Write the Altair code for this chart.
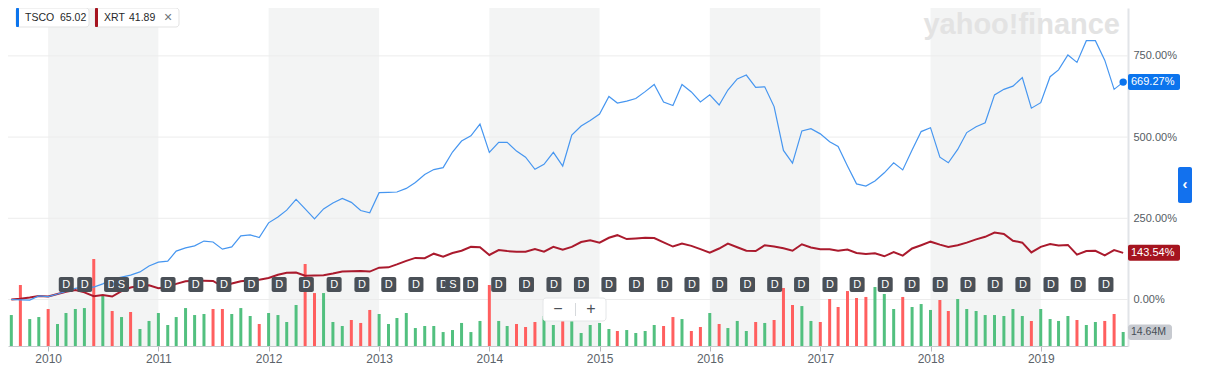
import altair as alt
import pandas as pd

# ---------------- data ----------------
months = pd.date_range("2009-09-01", periods=122, freq="MS").strftime("%Y-%m-%dT00:00:00").tolist()

tsco_pct = [0, -1, -2, 11, 9, 17, 25, 34, 38, 38, 48, 63, 69, 75, 85, 103,
            115, 118, 149, 159, 165, 180, 177, 155, 162, 196, 199, 191,
            236, 254, 275, 308, 279, 248, 279, 297, 311, 299, 274, 267,
            329, 330, 331, 342, 360, 385, 400, 406, 454, 488, 504, 540,
            453, 484, 484, 457, 438, 401, 416, 453, 411, 506, 534, 551,
            571, 625, 605, 611, 619, 640, 662, 608, 597, 662, 639, 608,
            630, 599, 645, 679, 691, 653, 655, 594, 459, 420, 519, 526,
            510, 486, 471, 411, 356, 349, 365, 390, 421, 399, 460, 517,
            529, 438, 421, 462, 514, 532, 544, 630, 647, 657, 683, 589,
            606, 686, 707, 753, 730, 797, 797, 737, 647, 669.27]

xrt_pct = [0, 2, 6, 11, 9, 17, 24, 29, 22, 10, 14, 9, 26, 37, 42, 44,
           35, 38, 48, 56, 58, 58, 57, 40, 49, 56, 59, 61,
           66, 76, 82, 83, 73, 74, 75, 80, 86, 87, 88, 86,
           98, 99, 108, 119, 128, 127, 141, 132, 143, 150, 162, 161,
           137, 152, 149, 147, 147, 155, 147, 162, 153, 162, 177, 182,
           175, 190, 198, 186, 188, 190, 189, 176, 163, 172, 165, 155,
           144, 157, 172, 161, 150, 149, 167, 163, 158, 150, 170, 160,
           155, 155, 150, 154, 143, 140, 142, 133, 146, 135, 157, 167,
           178, 169, 162, 167, 175, 185, 193, 206, 202, 181, 175, 145,
           162, 171, 166, 168, 138, 149, 150, 136, 152, 143.54]

volume_m = [32.4, 63.8, 28.2, 30.3, 38.7, 23.0, 34.5, 38.7, 39.7, 91.0, 52.3,
            36.6, 30.3, 35.6, 17.8, 26.2, 34.5, 22.0, 30.3, 39.7, 32.4, 33.5,
            38.7, 38.7, 33.5, 39.7, 31.4, 23.0, 34.5, 32.4, 25.1, 42.9, 85.8,
            55.4, 55.4, 25.1, 20.9, 27.2, 24.1, 37.7, 33.5, 23.0, 29.3,
            34.5, 18.8, 20.9, 20.9, 14.6, 16.7, 24.1, 14.6, 26.2, 63.8, 26.2,
            20.9, 23.0, 19.9, 25.1, 31.4, 22.0, 29.3, 29.3, 13.6, 22.0, 24.1,
            17.8, 15.7, 16.7, 13.6, 15.7, 22.0, 20.9, 30.3, 28.2, 15.7, 19.9,
            34.5, 23.0, 18.8, 26.2, 15.7, 25.1, 24.1, 27.2, 60.7, 42.9,
            41.8, 26.2, 25.1, 49.2, 40.8, 57.5, 50.2, 51.3, 61.7, 54.4, 38.7,
            51.3, 40.8, 43.9, 37.7, 48.1, 36.6, 49.2, 38.7, 36.6, 32.4, 32.4,
            31.4, 38.7, 31.4, 26.2, 38.7, 28.2, 26.2, 31.4, 27.2, 22.0, 25.1,
            26.2, 33.5, 14.64]

# g = up (green), r = down (red), one letter per monthly bar
volume_dir = list("grggr" "ggggr" "grgrg" "ggggg" "ggrrg" "ggrgg" "ggrrg" "ggrrr" "ggg"
                  "ggggg" "ggggr" "ggrrr" "ggrgg" "gggrg" "gggrr" "grrgr" "gggrg" "rrr"
                  "ggrrr" "rrrgg" "grggg" "rrggg" "ggggg" "rgggg" "rggrr" "g")

shaded_years = [2010, 2012, 2014, 2016, 2018]
year_ticks = list(range(2010, 2020))
grid_values = [0, 250, 500, 750]

event_dates = ["2010-03-02", "2010-05-02", "2010-07-30", "2010-11-04",
               "2011-02-02", "2011-05-05", "2011-08-06", "2011-11-05",
               "2012-02-05", "2012-05-05", "2012-08-05", "2012-11-05",
               "2013-02-02", "2013-05-03", "2013-08-04", "2013-10-31",
               "2014-02-01", "2014-05-04", "2014-08-03", "2014-11-02",
               "2015-02-01", "2015-05-03", "2015-08-05", "2015-11-03",
               "2016-02-03", "2016-05-05", "2016-08-03", "2016-10-31",
               "2017-02-02", "2017-05-03", "2017-08-04", "2017-11-01",
               "2018-02-02", "2018-05-05", "2018-08-03", "2018-11-03",
               "2019-02-04", "2019-05-05", "2019-08-05",
               "2010-09-01", "2013-09-02"]
event_kinds = ["D"] * 39 + ["S", "S"]

legend_names = ["TSCO", "XRT"]
legend_prices = ["65.02", "41.89"]

# ---------------- styling ----------------
BLUE = "#4696f0"
BLUE_DARK = "#0b74ed"
RED = "#aa1a2d"
RED_BOX = "#a5141f"
GREEN_VOL = "#52c07f"
RED_VOL = "#ff5f5f"
FONT = "Liberation Sans"

W, H = 1120, 338
PCT_DOMAIN = [-143.2, 897.5]
VOL_DOMAIN = [0, 353.6]

df = pd.DataFrame({
    "date": months,
    "TSCO": tsco_pct,
    "XRT": xrt_pct,
    "vol": volume_m,
    "dir": ["up" if c == "g" else "down" for c in volume_dir],
})

xaxis = alt.Axis(
    values=[alt.DateTime(year=y, month=1, date=1) for y in year_ticks],
    format="%Y", tickSize=5, tickColor="#b5b9bd", domainColor="#c6cace",
    labelFontSize=12, labelColor="#5b636a", labelFont=FONT, labelPadding=2,
    grid=False, title=None, labelFlush=False,
)
X = alt.X("date:T",
          scale=alt.Scale(domain=[alt.DateTime(year=2009, month=8, date=21),
                                  alt.DateTime(year=2019, month=10, date=17)],
                          padding=0, nice=False),
          axis=xaxis)
pct_scale = alt.Scale(domain=PCT_DOMAIN, nice=False, zero=False)
vol_scale = alt.Scale(domain=VOL_DOMAIN, nice=False, zero=True)

# shaded alternate years
bands = pd.DataFrame({
    "date": [f"{y}-01-01T00:00:00" for y in shaded_years],
    "end": [f"{y + 1}-01-01T00:00:00" for y in shaded_years],
})
band_layer = alt.Chart(bands).mark_rect(color="#f3f4f4").encode(x=X, x2="end:T")

# gridlines + right axis
right_axis = alt.Axis(
    orient="right", values=grid_values,
    labelExpr="format(datum.value, '.2f') + '%'",
    ticks=False, grid=False, domain=True, domainColor="#e1e4e8", domainWidth=2,
    labelPadding=5, labelFontSize=11, labelColor="#555c63", labelFont=FONT,
    title=None,
)
grid_layer = alt.Chart(pd.DataFrame({"v": grid_values})).mark_rule(
    color="#ececec", strokeWidth=1
).encode(y=alt.Y("v:Q", scale=pct_scale, axis=right_axis))

# volume bars
vol_layer = alt.Chart(df).mark_bar(size=3).encode(
    x=X,
    y=alt.Y("vol:Q", scale=vol_scale, axis=None),
    color=alt.Color("dir:N", scale=alt.Scale(domain=["up", "down"], range=[GREEN_VOL, RED_VOL]),
                    legend=None),
)

xrt_layer = alt.Chart(df).mark_line(color=RED, strokeWidth=2).encode(
    x=X, y=alt.Y("XRT:Q", scale=pct_scale, axis=None))
tsco_layer = alt.Chart(df).mark_line(color=BLUE, strokeWidth=1.2).encode(
    x=X, y=alt.Y("TSCO:Q", scale=pct_scale, axis=None))

# event markers
ev = pd.DataFrame({"date": [d + "T00:00:00" for d in event_dates], "kind": event_kinds})
ev_box = alt.Chart(ev).mark_rect(color="#4a5057", cornerRadius=2, xOffset=-7.5, x2Offset=7.5).encode(
    x=X, x2="date:T", y=alt.value(269), y2=alt.value(284))
ev_txt = alt.Chart(ev).mark_text(color="white", fontSize=11, font=FONT, baseline="middle").encode(
    x=X, y=alt.value(276.5), text="kind:N")
ev_layers = []
for kind in ["D", "S"]:
    ev_layers.append(ev_box.transform_filter(alt.datum.kind == kind))
    ev_layers.append(ev_txt.transform_filter(alt.datum.kind == kind))

# end-of-line labels
last = pd.DataFrame({
    "date": [months[-1], months[-1]],
    "val": [tsco_pct[-1], xrt_pct[-1]],
    "series": legend_names,
    "label": [f"{tsco_pct[-1]:.2f}%", f"{xrt_pct[-1]:.2f}%"],
})
series_color = alt.Color("series:N", scale=alt.Scale(domain=legend_names, range=[BLUE_DARK, RED_BOX]),
                         legend=None)
end_box = alt.Chart(last).mark_rect(cornerRadius=2, yOffset=-8, y2Offset=8).encode(
    x=alt.value(1120), x2=alt.value(1172),
    y=alt.Y("val:Q", scale=pct_scale, axis=None), y2="val:Q", color=series_color)
end_txt = alt.Chart(last).mark_text(align="left", baseline="middle", fontSize=11, font=FONT,
                                    color="white").encode(
    x=alt.value(1123), y=alt.Y("val:Q", scale=pct_scale, axis=None), text="label:N")
end_dot = alt.Chart(last.iloc[:1]).mark_point(filled=True, size=55, opacity=1, color=BLUE_DARK).encode(
    x=X, y=alt.Y("val:Q", scale=pct_scale, axis=None))

vlast = pd.DataFrame({"vol": [volume_m[-1]], "label": [f"{volume_m[-1]:.2f}M"]})
vol_box = alt.Chart(vlast).mark_rect(cornerRadius=3, yOffset=-7.5, y2Offset=8, color="#c7cad0").encode(
    x=alt.value(1120), x2=alt.value(1164),
    y=alt.Y("vol:Q", scale=vol_scale, axis=None), y2="vol:Q")
vol_txt = alt.Chart(vlast).mark_text(align="left", baseline="middle", fontSize=10.5, font=FONT,
                                     color="#464e56").encode(
    x=alt.value(1123), y=alt.Y("vol:Q", scale=vol_scale, axis=None), text="label:N")

# decorations
one = pd.DataFrame({"a": [0]})


def box(x0, x1, y0, y1, **kw):
    return alt.Chart(one).mark_rect(**kw).encode(
        x=alt.value(x0), x2=alt.value(x1), y=alt.value(y0), y2=alt.value(y1))


def label(txt, x, y, **kw):
    kw.setdefault("font", FONT)
    return alt.Chart(one).mark_text(text=txt, **kw).encode(x=alt.value(x), y=alt.value(y))


watermark = label("yahoo!finance", 1112, 3, align="right", baseline="top",
                  fontSize=29, fontWeight="bold", color="#e3e3e3")

chips = [
    box(8, 81, 0, 19, fill="white", stroke="#e3e3e3", cornerRadius=3),
    box(8, 11, 0, 19, fill=BLUE_DARK, cornerRadius=1),
    label(legend_names[0], 17, 10, align="left", baseline="middle", fontSize=10.5, color="#26282a"),
    label(legend_prices[0], 52, 10, align="left", baseline="middle", fontSize=10.5, color="#26282a"),
    box(87, 171, 0, 19, fill="white", stroke="#e3e3e3", cornerRadius=3),
    box(87, 90, 0, 19, fill=RED_BOX, cornerRadius=1),
    label(legend_names[1], 96, 10, align="left", baseline="middle", fontSize=10.5, color="#26282a"),
    label(legend_prices[1], 121, 10, align="left", baseline="middle", fontSize=10.5, color="#26282a"),
    label("×", 160, 10, align="center", baseline="middle", fontSize=14, color="#6e7378"),
]

zoom_ctrl = [
    box(535, 598, 290, 313, fill="white", stroke="#e4e6e8", cornerRadius=3),
    box(567, 568, 295, 308, fill="#d6d9dc"),
    label("−", 550, 301, align="center", baseline="middle", fontSize=16, color="#4a5057"),
    label("+", 583, 301, align="center", baseline="middle", fontSize=16, color="#4a5057"),
]

tab = [
    box(1170, 1184, 159, 195, fill="#1271ee", cornerRadius=2),
    label("‹", 1177, 176, align="center", baseline="middle", fontSize=15, fontWeight="bold", color="white"),
]

layers = ([band_layer, grid_layer, watermark, vol_layer, xrt_layer, tsco_layer]
          + ev_layers + [end_dot, end_box, end_txt, vol_box, vol_txt] + chips + zoom_ctrl + tab)

chart = alt.layer(*layers).resolve_scale(
    y="independent", color="independent"
).properties(
    width=W, height=H,
    padding={"left": 0, "top": 0, "right": 80, "bottom": 19},
    autosize=alt.AutoSizeParams(type="none"),
    background="white",
).configure_view(stroke=None)

chart.save("out.html", embed_options={"renderer": "svg", "actions": False})
